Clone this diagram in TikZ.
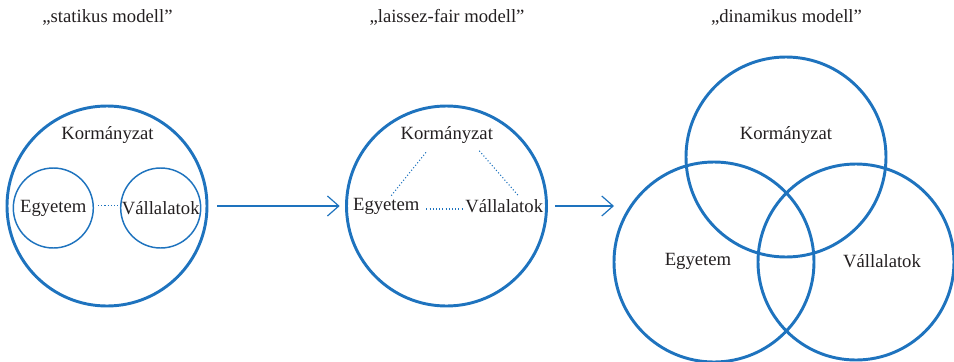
\documentclass[tikz,border=0pt]{standalone}
\usepackage{fontspec}
\setmainfont{Liberation Serif}
\usetikzlibrary{arrows.meta}
\definecolor{kek}{RGB}{30,115,190}
\definecolor{betu}{RGB}{35,31,32}

\begin{document}
\begin{tikzpicture}[x=0.75pt, y=-0.75pt,
    every node/.style={text=betu, font=\fontsize{14pt}{17pt}\selectfont, inner sep=0pt},
    nagykor/.style={circle, draw=kek, line width=2.2pt, minimum size=150pt},
    kiskor/.style={circle, draw=kek, line width=1.1pt, minimum size=60pt},
    nyil/.style={-{Straight Barb[length=8.5pt,width=15pt]}, draw=kek, line width=0.9pt},
    pont/.style={draw=kek, line width=0.8pt, dash pattern=on 0.8pt off 1.6pt}]
  \useasboundingbox (0,0) rectangle (954,361);

  % titles
  \node (t1) at (107.5,17) {„statikus modell”};
  \node (t2) at (447,17) {„laissez-fair modell”};
  \node (t3) at (786.5,17) {„dinamikus modell”};

  % static model
  \node[nagykor] (m1) at (107,206) {};
  \node (k1) at (107.5,135) {Kormányzat};
  \node[kiskor] (e1) at (53.3,208) {Egyetem};
  \node[kiskor] (v1) at (160.7,208) {Vállalatok};
  \draw[pont, shorten <=3pt, shorten >=0pt] ([yshift=2pt]e1.east) -- ([yshift=2pt]v1.west);

  % laissez-fair model
  \node[nagykor] (m2) at (446.5,206) {};
  \node (k2) at (446.8,135) {Kormányzat};
  \node (e2) at (386.3,206) {Egyetem};
  \node (v2) at (504.2,206) {Vállalatok};
  \draw[pont, shorten <=5pt, shorten >=2.5pt] ([yshift=-2.25pt]e2.east) -- ([yshift=-2.25pt]v2.west);
  \draw[pont] ([shift={(5,-2)}]e2.north) -- ([shift={(-19.5,7)}]k2.south);
  \draw[pont] ([shift={(32.5,7)}]k2.south) -- ([shift={(15,-2.5)}]v2.north);

  % dynamic model
  \node[nagykor] (vkor) at (786,157) {};
  \node[nagykor] (vegy) at (714,262) {};
  \node[nagykor, minimum size=147pt] (vval) at (856,262) {};
  \node (k3) at (786,135) {Kormányzat};
  \node (e3) at (698,261) {Egyetem};
  \node (v3) at (882,261) {Vállalatok};
  \coordinate (be) at (614,206);

  % arrows
  \draw[nyil, shorten <=6.5pt, shorten >=4pt] (m1) -- (m2);
  \draw[nyil, shorten <=5.5pt] (m2) -- (be);
\end{tikzpicture}
\end{document}
